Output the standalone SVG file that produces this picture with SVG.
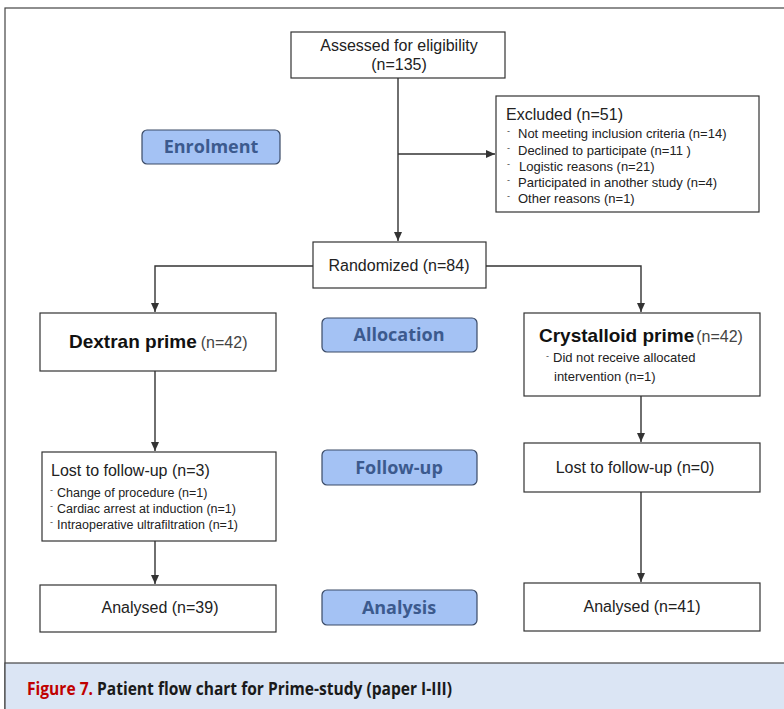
<svg xmlns="http://www.w3.org/2000/svg" width="784" height="709" viewBox="0 0 784 709">
<defs>
<marker id="ah" markerWidth="10" markerHeight="10" refX="9" refY="5" orient="auto" markerUnits="userSpaceOnUse">
<path d="M0,1 L9,5 L0,9 Z" fill="#333"/>
</marker>
<style>
.box{fill:#fff;stroke:#333;stroke-width:1.2}
.phase{fill:#a4c2f4;stroke:#3a4a66;stroke-width:1.2}
.pt{font-family:"Open Sans","Liberation Sans",sans-serif;font-weight:bold;font-size:18px;fill:#3c5a8e;text-anchor:middle}
.t{font-family:"Liberation Sans",Arial,sans-serif;font-size:16px;fill:#222}
.s{font-family:"Liberation Sans",Arial,sans-serif;font-size:13px;fill:#222}
.s2{font-family:"Liberation Sans",Arial,sans-serif;font-size:12.5px;fill:#222}
.b{font-family:"Liberation Sans",Arial,sans-serif;font-size:19px;font-weight:bold;fill:#111}
.g{font-family:"Liberation Sans",Arial,sans-serif;font-size:16px;fill:#444}
.c{font-family:"Liberation Sans",Arial,sans-serif;font-size:9px;fill:#444}
.ln{fill:none;stroke:#333;stroke-width:1.4}
.cap{font-family:"Open Sans","Liberation Sans",sans-serif;font-weight:bold;font-size:17px}
</style>
</defs>
<rect x="0" y="0" width="784" height="709" fill="#fff"/>
<rect x="5" y="8" width="785" height="710" fill="#fff" stroke="#444" stroke-width="1.2"/>
<rect x="5" y="663" width="785" height="60" fill="#dbe5f4" stroke="#444" stroke-width="1.2"/>
<text class="cap" x="27" y="695" fill="#c00000" textLength="66" lengthAdjust="spacingAndGlyphs">Figure 7.</text>
<text class="cap" x="97" y="695" fill="#1a1a1a" textLength="355" lengthAdjust="spacingAndGlyphs">Patient flow chart for Prime-study (paper I-III)</text>

<g id="connectors">
<path class="ln" d="M398,78 V241" marker-end="url(#ah)"/>
<path class="ln" d="M398,154 H495" marker-end="url(#ah)"/>
<path class="ln" d="M313,266 H155 V312" marker-end="url(#ah)"/>
<path class="ln" d="M486,266 H641 V312" marker-end="url(#ah)"/>
<path class="ln" d="M155,371 V451" marker-end="url(#ah)"/>
<path class="ln" d="M641,396 V442" marker-end="url(#ah)"/>
<path class="ln" d="M155,541 V584" marker-end="url(#ah)"/>
<path class="ln" d="M641,492 V582" marker-end="url(#ah)"/>
</g>

<g id="assessed">
<rect class="box" x="291" y="32" width="214" height="46"/>
<text class="t" x="399" y="51" text-anchor="middle">Assessed for eligibility</text>
<text class="t" x="399" y="70" text-anchor="middle">(n=135)</text>
</g>

<g id="excluded">
<rect class="box" x="496" y="96" width="263" height="116"/>
<text class="t" x="506" y="120">Excluded (n=51)</text>
<text class="c" x="507" y="134">-</text><text class="s" x="518" y="138">Not meeting inclusion criteria (n=14)</text>
<text class="c" x="507" y="151">-</text><text class="s" x="518" y="155">Declined to participate (n=11 )</text>
<text class="c" x="507" y="167">-</text><text class="s" x="519" y="171">Logistic reasons (n=21)</text>
<text class="c" x="507" y="183">-</text><text class="s" x="518" y="187">Participated in another study (n=4)</text>
<text class="c" x="507" y="199">-</text><text class="s" x="518" y="203">Other reasons (n=1)</text>
</g>

<g id="enrolment">
<rect class="phase" x="142" y="130" width="138" height="34" rx="5"/>
<text class="pt" x="211" y="153">Enrolment</text>
</g>

<g id="randomized">
<rect class="box" x="313" y="242" width="173" height="46"/>
<text class="t" x="399" y="271" text-anchor="middle">Randomized (n=84)</text>
</g>

<g id="dextran">
<rect class="box" x="40" y="313" width="236" height="58"/>
<text x="69" y="348"><tspan class="b">Dextran prime</tspan><tspan class="g" dx="4">(n=42)</tspan></text>
</g>

<g id="allocation">
<rect class="phase" x="322" y="318" width="155" height="34" rx="5"/>
<text class="pt" x="399" y="341">Allocation</text>
</g>

<g id="crystalloid">
<rect class="box" x="524" y="313" width="236" height="83"/>
<text x="539" y="342"><tspan class="b">Crystalloid prime</tspan><tspan class="g" dx="2">(n=42)</tspan></text>
<text class="c" x="546" y="359">-</text><text class="s" x="553" y="362">Did not receive  allocated</text>
<text class="s" x="554" y="381">intervention  (n=1)</text>
</g>

<g id="lost-left">
<rect class="box" x="42" y="452" width="234" height="89"/>
<text class="t" x="51" y="476">Lost to follow-up  (n=3)</text>
<text class="c" x="50" y="493">-</text><text class="s2" x="57" y="497">Change of procedure (n=1)</text>
<text class="c" x="50" y="509">-</text><text class="s2" x="57" y="513">Cardiac arrest at induction (n=1)</text>
<text class="c" x="50" y="525">-</text><text class="s2" x="57" y="529">Intraoperative  ultrafiltration (n=1)</text>
</g>

<g id="followup">
<rect class="phase" x="322" y="450" width="155" height="35" rx="5"/>
<text class="pt" x="399" y="474">Follow-up</text>
</g>

<g id="lost-right">
<rect class="box" x="524" y="443" width="236" height="49"/>
<text class="t" x="635" y="473" text-anchor="middle">Lost to follow-up  (n=0)</text>
</g>

<g id="analysed-left">
<rect class="box" x="40" y="585" width="236" height="47"/>
<text class="t" x="160" y="613" text-anchor="middle">Analysed (n=39)</text>
</g>

<g id="analysis">
<rect class="phase" x="322" y="590" width="155" height="35" rx="5"/>
<text class="pt" x="399" y="614">Analysis</text>
</g>

<g id="analysed-right">
<rect class="box" x="524" y="583" width="236" height="48"/>
<text class="t" x="642" y="612" text-anchor="middle">Analysed (n=41)</text>
</g>
</svg>
